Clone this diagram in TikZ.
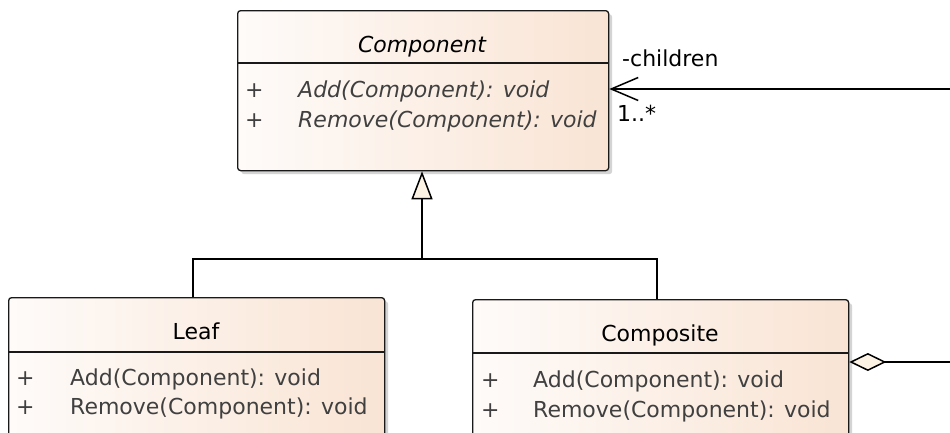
\documentclass[tikz,border=0pt]{standalone}
\usepackage{fontspec}
\setmainfont{DejaVu Sans}
\usetikzlibrary{arrows.meta}
\definecolor{cL}{RGB}{254,251,249}
\definecolor{cR}{RGB}{249,228,212}
\definecolor{cream}{RGB}{252,243,229}
\definecolor{txtgray}{RGB}{64,64,64}
\definecolor{shade}{RGB}{212,212,212}
\begin{document}
\begin{tikzpicture}[x=1pt,y=-1pt,
  classbox/.style={draw=black!90, line width=1.3pt, rounded corners=3pt,
    left color=cL, right color=cR, inner sep=0pt, anchor=north west},
  shadowbox/.style={fill=shade, rounded corners=3pt, inner sep=0pt, anchor=north west},
  sepline/.style={draw=black!90, line width=1.3pt},
  member/.style={anchor=base west, inner sep=0pt, text=txtgray,
    font=\fontsize{22}{26}\selectfont},
  imember/.style={member, font=\fontsize{22}{26}\selectfont\itshape},
  ctitle/.style={anchor=base, inner sep=0pt, font=\fontsize{22}{26}\selectfont},
  elabel/.style={anchor=base west, inner sep=0pt, font=\fontsize{22}{26}\selectfont},
  conn/.style={draw=black, line width=1.5pt}
]
\clip (0,0) rectangle (950,432);
\fill[white] (0,0) rectangle (950,432);

% ---- Component ----
\node[shadowbox, minimum width=371pt, minimum height=160pt] (compsh) at (241,14) {};
\node[classbox, minimum width=371pt, minimum height=160pt] (comp) at (237,10) {};
\draw[sepline] (comp.west |- 0,63) -- (comp.east |- 0,63);
\node[ctitle, font=\fontsize{22}{26}\selectfont\itshape] (compt) at (422,52) {Component};
\node[member] (cp1) at (245,97) {+};
\node[imember] (cm1) at (298,97) {Add(Component): void};
\node[member] (cp2) at (245,127) {+};
\node[imember] (cm2) at (298,127) {Remove(Component): void};

% ---- Leaf ----
\node[shadowbox, minimum width=376pt, minimum height=160pt] (leafsh) at (12,301) {};
\node[classbox, minimum width=376pt, minimum height=160pt] (leaf) at (8,297) {};
\draw[sepline] (leaf.west |- 0,352) -- (leaf.east |- 0,352);
\node[ctitle, text=black] (leaft) at (196,339) {Leaf};
\node[member] (lp1) at (16,385) {+};
\node[member] (lm1) at (70,385) {Add(Component): void};
\node[member] (lp2) at (16,414) {+};
\node[member] (lm2) at (70,414) {Remove(Component): void};

% ---- Composite ----
\node[shadowbox, minimum width=376pt, minimum height=160pt] (compsh2) at (476,303) {};
\node[classbox, minimum width=376pt, minimum height=160pt] (compo) at (472,299) {};
\draw[sepline] (compo.west |- 0,353) -- (compo.east |- 0,353);
\node[ctitle] (compot) at (660,341) {Composite};
\node[member] (op1) at (481,387) {+};
\node[member] (om1) at (533,387) {Add(Component): void};
\node[member] (op2) at (481,417) {+};
\node[member] (om2) at (533,417) {Remove(Component): void};

% ---- Generalization ----
\coordinate (jl) at (193,259);
\coordinate (jc) at (422,259);
\coordinate (jr) at (657,259);
\draw[conn] (leaf.north -| jl) -- (jl) -- (jr) -- (compo.north -| jr);
\draw[conn, -{Triangle[length=28pt, width=21pt, fill=cream]}] (jc) -- (comp.south -| jc);

% ---- Association (children) ----
\coordinate (asc) at (950,89);
\draw[conn, -{Straight Barb[length=27pt, width=23pt, line width=1.5pt]}] (asc) -- (comp.east |- asc);
\node[elabel] (lchild) at (622,66) {-children};
\node[elabel] (lmult) at (617,121) {1..*};

% ---- Aggregation ----
\coordinate (agg) at (950,362);
\draw[conn, {Diamond[length=37pt, width=18pt, fill=cream]}-] (compo.east |- agg) -- (agg);
\end{tikzpicture}
\end{document}
